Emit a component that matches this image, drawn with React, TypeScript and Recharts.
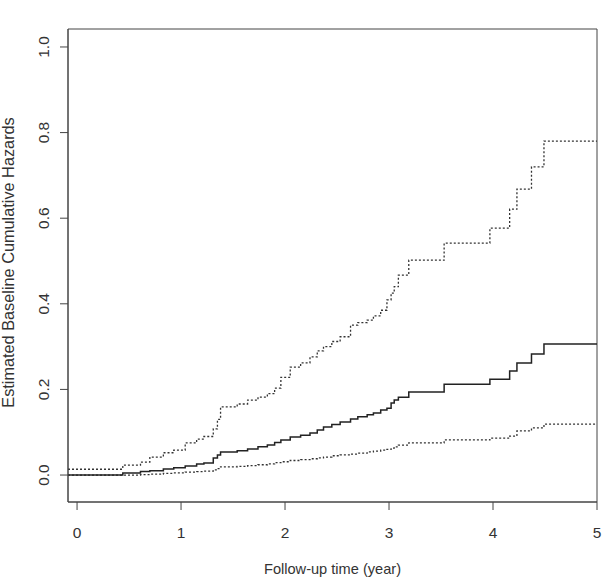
import React from "react";
import {
  LineChart, Line, XAxis, YAxis, Label, ReferenceArea,
} from "recharts";

// event times (years); first entry sits at the left edge of the plot region
const times = [
  -0.087, 0.44, 0.61, 0.7, 0.83, 0.93, 1.04, 1.15, 1.22, 1.31, 1.35, 1.38,
  1.54, 1.64, 1.74, 1.83, 1.9, 1.96, 2.05, 2.15, 2.24, 2.31, 2.37, 2.45,
  2.53, 2.63, 2.7, 2.79, 2.85, 2.92, 2.98, 3.02, 3.05, 3.09, 3.19, 3.53,
  3.97, 4.16, 4.23, 4.37, 4.49, 5.0,
];

// baseline cumulative hazard estimate
const hazard = [
  0, 0.005, 0.008, 0.01, 0.014, 0.017, 0.021, 0.026, 0.028, 0.04, 0.047, 0.054,
  0.057, 0.061, 0.066, 0.07, 0.076, 0.082, 0.089, 0.093, 0.098, 0.105, 0.112, 0.118,
  0.124, 0.131, 0.136, 0.141, 0.145, 0.152, 0.156, 0.168, 0.175, 0.182, 0.194, 0.212,
  0.224, 0.243, 0.262, 0.283, 0.306, 0.306,
];

// upper confidence band
const upper = [
  0.0135, 0.023, 0.03, 0.042, 0.052, 0.058, 0.075, 0.084, 0.09, 0.108, 0.13, 0.159,
  0.166, 0.175, 0.182, 0.19, 0.203, 0.228, 0.252, 0.262, 0.276, 0.29, 0.3, 0.312,
  0.323, 0.35, 0.356, 0.362, 0.372, 0.385, 0.409, 0.425, 0.44, 0.467, 0.502, 0.542,
  0.577, 0.621, 0.668, 0.72, 0.78, 0.78,
];

// lower confidence band
const lower = [
  0, 0, 0.001, 0.002, 0.004, 0.005, 0.007, 0.008, 0.009, 0.012, 0.015, 0.019,
  0.02, 0.022, 0.024, 0.026, 0.029, 0.031, 0.034, 0.036, 0.038, 0.04, 0.042, 0.045,
  0.047, 0.049, 0.051, 0.054, 0.056, 0.058, 0.06, 0.063, 0.066, 0.07, 0.075, 0.082,
  0.086, 0.091, 0.103, 0.11, 0.119, 0.119,
];

const xTicks = [0, 1, 2, 3, 4, 5];
const yTicks = [0, 0.2, 0.4, 0.6, 0.8, 1.0];

const X_DOMAIN: [number, number] = [-0.087, 5.0];
const Y_DOMAIN: [number, number] = [-0.063, 1.042];

const data = times.map((t, i) => ({
  t,
  hazard: hazard[i],
  upper: upper[i],
  lower: lower[i],
}));

const FONT = "'Liberation Sans', Arial, sans-serif";
const INK = "#333";
const AXIS = "#444";

const XTick = (props: any) => {
  const { x, y, payload } = props;
  return (
    <text x={x} y={y + 20} textAnchor="middle" dominantBaseline="central"
      fontFamily={FONT} fontSize={15.5} fill={INK}>
      {payload.value}
    </text>
  );
};

const YTick = (props: any) => {
  const { x, y, payload } = props;
  const cx = x - 14;
  return (
    <text x={cx} y={y} textAnchor="middle" dominantBaseline="central"
      transform={`rotate(-90, ${cx}, ${y})`}
      fontFamily={FONT} fontSize={15.5} fill={INK}>
      {Number(payload.value).toFixed(1)}
    </text>
  );
};

const YTitle = (props: any) => {
  const { viewBox } = props;
  const cx = 8;
  const cy = viewBox.y + viewBox.height / 2 - 3;
  return (
    <text x={cx} y={cy} textAnchor="middle" dominantBaseline="central"
      transform={`rotate(-90, ${cx}, ${cy})`}
      fontFamily={FONT} fontSize={16.3} fill={INK}>
      Estimated Baseline Cumulative Hazards
    </text>
  );
};

export default function App() {
  return (
    <div style={{ position: "absolute", left: 0, top: 0, background: "#fff" }}>
      <LineChart width={603} height={585} data={data}
        margin={{ top: 29, right: 6, left: 0, bottom: 0 }}>
        <XAxis dataKey="t" type="number" domain={X_DOMAIN} allowDataOverflow
          ticks={xTicks} tickSize={8} height={83} interval={0}
          stroke={AXIS} tick={<XTick />}>
          <Label position="insideBottom" offset={11} value="Follow-up time (year)"
            fontFamily={FONT} fontSize={14.6} fill={INK} />
        </XAxis>
        <YAxis type="number" domain={Y_DOMAIN} allowDataOverflow
          ticks={yTicks} tickSize={8} width={68} interval={0}
          stroke={AXIS} tick={<YTick />}>
          <Label content={<YTitle />} />
        </YAxis>

        {/* frame around the plot region */}
        <ReferenceArea x1={X_DOMAIN[0]} x2={X_DOMAIN[1]} y1={Y_DOMAIN[0]} y2={Y_DOMAIN[1]}
          fill="none" fillOpacity={0} stroke={AXIS} strokeWidth={1} ifOverflow="visible" />

        <Line type="stepAfter" dataKey="upper" stroke="#333" strokeWidth={1.3}
          strokeDasharray="2 2" dot={false} isAnimationActive={false} />
        <Line type="stepAfter" dataKey="lower" stroke="#333" strokeWidth={1.3}
          strokeDasharray="2 2" dot={false} isAnimationActive={false} />
        <Line type="stepAfter" dataKey="hazard" stroke="#222" strokeWidth={1.5}
          dot={false} isAnimationActive={false} />
      </LineChart>
    </div>
  );
}
